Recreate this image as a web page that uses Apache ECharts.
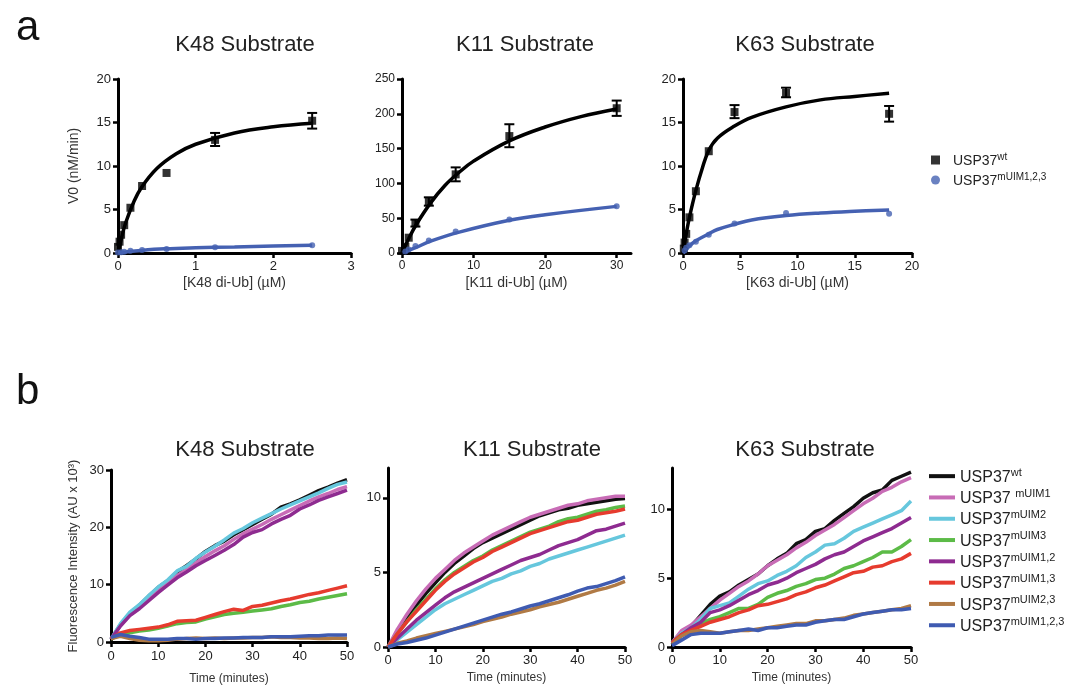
<!DOCTYPE html>
<html>
<head>
<meta charset="utf-8">
<script src="https://cdn.jsdelivr.net/npm/echarts@6/dist/echarts.min.js"></script>
<style>
  html, body { margin: 0; padding: 0; background: #fff; }
  #chart { width: 1068px; height: 692px; }
</style>
</head>
<body>
<div id="chart"></div>
<script>
// ---- panel a: initial velocity vs substrate ----
const k48Wt = [[0.0, 0.7], [0.02, 1.3], [0.04, 2.1], [0.08, 3.2], [0.16, 5.2], [0.31, 7.7], [0.625, 9.2], [1.25, 13.0], [2.5, 15.2]];
const k48Mut = [[0, 0.05], [0.04, 0.1], [0.08, 0.15], [0.16, 0.25], [0.31, 0.35], [0.625, 0.45], [1.25, 0.65], [2.5, 0.9]];
const k48WtErr = [[1.25, 12.3, 13.8], [2.5, 14.3, 16.1]];
const k48WtFit = [[0, 0], [0.05, 1.9], [0.1, 3.5], [0.2, 5.8], [0.3, 7.5], [0.5, 9.7], [0.75, 11.4], [1, 12.5], [1.5, 13.8], [2, 14.5], [2.5, 14.9]];
const k48MutFit = [[0, 0], [0.1, 0.12], [0.3, 0.3], [0.6, 0.48], [1, 0.6], [1.5, 0.7], [2, 0.8], [2.5, 0.88]];

const k11Wt = [[0, 3], [0.47, 9], [0.94, 22], [1.875, 43], [3.75, 74], [7.5, 113], [15, 168], [30, 208]];
const k11Mut = [[0.47, 2], [0.94, 5], [1.875, 10], [3.75, 18], [7.5, 31], [15, 48], [30, 67]];
const k11WtErr = [[1.875, 38, 48], [3.75, 68, 80], [7.5, 103, 123], [15, 152, 185], [30, 197, 219]];
const k11WtFit = [[0, 0], [1, 22], [2, 41], [4, 72], [6, 97], [8, 116], [10, 132], [15, 161], [20, 181], [25, 196], [30, 207]];
const k11MutFit = [[0, 0], [1, 4], [2, 8], [4, 17], [8, 30], [15, 47], [20, 55], [30, 67]];

const k63Wt = [[0.07, 0.5], [0.14, 1.2], [0.28, 2.2], [0.56, 4.1], [1.125, 7.1], [2.25, 11.7], [4.5, 16.2], [9, 18.4], [18, 16]];
const k63Mut = [[0.14, 0.3], [0.28, 0.6], [0.56, 0.9], [1.125, 1.3], [2.25, 2.1], [4.5, 3.4], [9, 4.6], [18, 4.5]];
const k63WtErr = [[4.5, 15.5, 17], [9, 17.9, 19], [18, 15.1, 16.9]];
const k63WtFit = [[0, 0], [0.28, 2.2], [0.56, 4.1], [1.125, 7.2], [1.7, 9.8], [2.25, 11.8], [3, 13.2], [4.5, 14.6], [6, 15.6], [9, 16.8], [12, 17.6], [15, 18.0], [18, 18.35]];
const k63MutFit = [[0, 0], [0.56, 0.8], [1.125, 1.4], [2.25, 2.2], [3, 2.7], [4.5, 3.3], [6, 3.8], [9, 4.3], [12, 4.6], [15, 4.8], [18, 4.95]];

// ---- panel b: fluorescence time courses (every 2 min) ----
const minutes = [0, 2, 4, 6, 8, 10, 12, 14, 16, 18, 20, 22, 24, 26, 28, 30, 32, 34, 36, 38, 40, 42, 44, 46, 48, 50];
const variants = ['wt', 'm1', 'm2', 'm3', 'm12', 'm13', 'm23', 'm123'];

const k48Curves = {
  wt:   [0.5, 3.0, 5.0, 6.4, 8.0, 9.5, 10.7, 12.2, 13.3, 14.5, 15.8, 16.8, 17.6, 18.7, 19.6, 20.5, 21.4, 22.3, 23.5, 24.1, 24.8, 25.6, 26.4, 27.0, 27.7, 28.3],
  m1:   [0.5, 2.9, 4.8, 6.1, 7.6, 9.0, 10.3, 11.6, 12.6, 13.8, 14.9, 15.9, 16.8, 17.9, 18.9, 19.7, 20.5, 21.4, 22.2, 23.0, 23.8, 24.6, 25.3, 25.9, 26.6, 27.1],
  m2:   [0.5, 3.2, 5.2, 6.5, 8.1, 9.6, 10.8, 12.4, 13.2, 14.6, 15.7, 16.7, 17.8, 19.0, 19.8, 20.8, 21.6, 22.4, 23.2, 23.9, 24.6, 25.3, 26.0, 26.8, 27.5, 27.9],
  m3:   [0.5, 1.3, 1.6, 1.9, 2.1, 2.4, 2.8, 3.2, 3.4, 3.5, 4.0, 4.4, 4.8, 5.0, 5.2, 5.4, 5.6, 5.8, 6.2, 6.5, 6.9, 7.1, 7.5, 7.8, 8.1, 8.4],
  m12:  [0.5, 2.8, 4.6, 5.8, 7.2, 8.6, 9.9, 11.2, 12.2, 13.3, 14.2, 15.1, 16.0, 17.0, 18.3, 19.1, 19.6, 20.6, 21.4, 22.1, 23.2, 23.9, 24.7, 25.3, 25.9, 26.5],
  m13:  [0.5, 1.6, 2.0, 2.2, 2.4, 2.6, 3.0, 3.6, 3.7, 3.8, 4.3, 4.8, 5.3, 5.7, 5.5, 6.2, 6.4, 6.8, 7.2, 7.5, 7.9, 8.3, 8.6, 9.0, 9.4, 9.8],
  m23:  [0.6, 1.0, 0.6, 0.3, 0.2, 0.2, 0.3, 0.5, 0.6, 0.7, 0.6, 0.7, 0.6, 0.7, 0.7, 0.8, 0.8, 0.9, 0.8, 0.8, 0.7, 0.7, 0.6, 0.6, 0.7, 0.6],
  m123: [0.8, 1.3, 1.0, 0.8, 0.5, 0.5, 0.5, 0.6, 0.6, 0.5, 0.6, 0.6, 0.7, 0.7, 0.8, 0.8, 0.8, 0.9, 0.9, 0.9, 1.0, 1.1, 1.1, 1.2, 1.2, 1.2]
};
const k11Curves = {
  wt:   [0, 1.0, 1.9, 2.8, 3.6, 4.3, 5.0, 5.6, 6.1, 6.6, 7.0, 7.3, 7.6, 7.9, 8.2, 8.5, 8.8, 9.0, 9.2, 9.3, 9.5, 9.6, 9.7, 9.8, 9.9, 9.95],
  m1:   [0, 1.2, 2.2, 3.1, 3.9, 4.6, 5.2, 5.8, 6.3, 6.7, 7.1, 7.5, 7.8, 8.1, 8.4, 8.7, 8.9, 9.1, 9.3, 9.5, 9.6, 9.8, 9.9, 10.0, 10.1, 10.1],
  m2:   [0, 0.5, 1.0, 1.5, 2.0, 2.5, 2.9, 3.2, 3.5, 3.8, 4.1, 4.4, 4.6, 4.9, 5.1, 5.4, 5.6, 5.9, 6.1, 6.3, 6.5, 6.7, 6.9, 7.1, 7.3, 7.5],
  m3:   [0, 0.9, 1.7, 2.5, 3.2, 3.9, 4.5, 5.0, 5.4, 5.8, 6.1, 6.5, 6.8, 7.1, 7.4, 7.7, 7.9, 8.1, 8.4, 8.6, 8.7, 8.9, 9.1, 9.2, 9.35, 9.45],
  m12:  [0, 0.6, 1.2, 1.8, 2.3, 2.8, 3.3, 3.7, 4.0, 4.3, 4.6, 4.9, 5.2, 5.5, 5.8, 6.0, 6.2, 6.5, 6.8, 7.0, 7.2, 7.5, 7.8, 7.9, 8.1, 8.3],
  m13:  [0, 0.9, 1.7, 2.4, 3.1, 3.8, 4.4, 4.9, 5.3, 5.7, 6.0, 6.4, 6.7, 7.0, 7.3, 7.6, 7.8, 8.0, 8.2, 8.4, 8.5, 8.7, 8.9, 9.0, 9.1, 9.25],
  m23:  [0, 0.25, 0.4, 0.6, 0.75, 0.9, 1.05, 1.2, 1.35, 1.5, 1.7, 1.85, 2.0, 2.2, 2.35, 2.5, 2.7, 2.85, 3.0, 3.2, 3.4, 3.6, 3.8, 3.95, 4.15, 4.4],
  m123: [0, 0.2, 0.3, 0.45, 0.6, 0.8, 1.0, 1.2, 1.4, 1.6, 1.8, 2.0, 2.2, 2.35, 2.55, 2.75, 2.9, 3.1, 3.3, 3.5, 3.75, 3.95, 4.05, 4.25, 4.45, 4.7]
};
const k63Curves = {
  wt:   [0.2, 1.1, 1.5, 2.3, 3.1, 3.7, 4.0, 4.5, 4.9, 5.3, 5.9, 6.4, 6.8, 7.5, 7.8, 8.4, 8.6, 9.2, 9.7, 10.2, 10.8, 11.2, 11.4, 12.1, 12.4, 12.7],
  m1:   [0.3, 1.2, 1.6, 2.2, 2.8, 3.4, 3.9, 4.4, 4.8, 5.3, 5.9, 6.3, 6.7, 7.2, 7.6, 8.1, 8.5, 8.9, 9.4, 9.9, 10.4, 10.8, 11.3, 11.6, 12.0, 12.3],
  m2:   [0.3, 1.0, 1.4, 2.0, 2.8, 3.0, 3.2, 3.7, 4.2, 4.6, 4.8, 5.2, 5.5, 5.9, 6.5, 6.9, 7.4, 7.5, 7.9, 8.4, 8.7, 9.0, 9.3, 9.6, 9.9, 10.6],
  m3:   [0.3, 0.9, 1.3, 1.7, 2.0, 2.2, 2.5, 2.8, 2.8, 3.1, 3.6, 3.9, 4.1, 4.4, 4.6, 4.9, 5.0, 5.3, 5.7, 5.9, 6.2, 6.5, 6.9, 6.9, 7.3, 7.8],
  m12:  [0.3, 0.9, 1.4, 1.8, 2.5, 2.7, 3.0, 3.4, 3.8, 4.1, 4.5, 4.7, 5.0, 5.4, 5.7, 6.0, 6.4, 6.7, 6.9, 7.3, 7.7, 8.0, 8.3, 8.6, 9.0, 9.4],
  m13:  [0.3, 0.9, 1.2, 1.5, 1.8, 2.0, 2.2, 2.5, 2.7, 3.0, 3.1, 3.3, 3.5, 3.8, 4.0, 4.3, 4.5, 4.8, 5.1, 5.4, 5.5, 5.8, 5.9, 6.2, 6.4, 6.8],
  m23:  [0.2, 0.8, 1.1, 1.2, 1.1, 1.0, 1.1, 1.2, 1.2, 1.3, 1.4, 1.5, 1.6, 1.7, 1.7, 1.9, 1.9, 2.0, 2.1, 2.3, 2.4, 2.5, 2.6, 2.7, 2.8, 3.0],
  m123: [0.1, 0.5, 0.9, 1.0, 1.0, 1.0, 1.1, 1.2, 1.3, 1.2, 1.4, 1.4, 1.5, 1.6, 1.6, 1.8, 1.9, 2.0, 2.0, 2.2, 2.4, 2.5, 2.6, 2.7, 2.7, 2.8]
};

const colors = { wt: '#111111', m1: '#c86cb6', m2: '#66c7dd', m3: '#5cbb47', m12: '#8e2b90', m13: '#e63b2e', m23: '#b07a45', m123: '#3f5bb1' };
const legendLabels = {
  wt: '{b|USP37}{s|wt}', m1: '{b|USP37 }{s|mUIM1}', m2: '{b|USP37}{s|mUIM2}', m3: '{b|USP37}{s|mUIM3}',
  m12: '{b|USP37}{s|mUIM1,2}', m13: '{b|USP37}{s|mUIM1,3}', m23: '{b|USP37}{s|mUIM2,3}', m123: '{b|USP37}{s|mUIM1,2,3}',
  a_wt: '{b|USP37}{s|wt}', a_mut: '{b|USP37}{s|mUIM1,2,3}'
};
const mutBlue = '#4561b2';
const FONT = 'Liberation Sans, Arial, sans-serif';

const grids = [
  { left: 118, top: 79, width: 233, height: 174 },
  { left: 402, top: 79, width: 229, height: 174 },
  { left: 683, top: 79, width: 229, height: 174 },
  { left: 111, top: 470, width: 236, height: 172 },
  { left: 388, top: 468, width: 237, height: 179 },
  { left: 672, top: 468, width: 239, height: 179 }
];

function axis(grid, max, interval, opts) {
  const o = Object.assign({ name: '', gap: 0, font: 13, nameFont: 14, margin: 7, labels: null }, opts);
  const ax = {
    type: 'value', gridIndex: grid, min: 0, max, interval,
    name: o.name, nameLocation: 'middle', nameGap: o.gap,
    nameTextStyle: { color: '#333', fontSize: o.nameFont, fontFamily: FONT },
    axisLine: { lineStyle: { color: '#000', width: 3 } },
    axisTick: { length: 5, lineStyle: { color: '#000', width: 2.5 } },
    axisLabel: { color: '#222', fontSize: o.font, fontFamily: FONT, margin: o.margin },
    splitLine: { show: false }
  };
  if (o.labels) {
    ax.axisLabel.customValues = o.labels;
    ax.axisTick.customValues = o.labels;
  }
  return ax;
}

const xAxes = [
  axis(0, 3, 1, { name: '[K48 di-Ub] (\u00b5M)', gap: 23 }),
  axis(1, 32, 10, { name: '[K11 di-Ub] (\u00b5M)', gap: 23, font: 12, labels: [0, 10, 20, 30] }),
  axis(2, 20, 5, { name: '[K63 di-Ub] (\u00b5M)', gap: 23 }),
  axis(3, 50, 10, { name: 'Time (minutes)', gap: 31, nameFont: 12, margin: 8 }),
  axis(4, 50, 10, { name: 'Time (minutes)', gap: 25, nameFont: 12, margin: 7 }),
  axis(5, 50, 10, { name: 'Time (minutes)', gap: 25, nameFont: 12, margin: 7 })
];

const yAxes = [
  axis(0, 20, 5, { name: 'V0 (nM/min)', gap: 37 }),
  axis(1, 250, 50, { font: 12 }),
  axis(2, 20, 5, {}),
  axis(3, 30, 10, { name: 'Fluorescence Intensity (AU x 10\u00b3)', gap: 31, nameFont: 13 }),
  axis(4, 12, 5, { labels: [0, 5, 10] }),
  axis(5, 13, 5, { labels: [0, 5, 10] })
];

function errorBars(idx, data) {
  return {
    type: 'custom', xAxisIndex: idx, yAxisIndex: idx, data, z: 4, silent: true,
    renderItem(params, api) {
      const x = api.value(0);
      const top = api.coord([x, api.value(2)]);
      const bot = api.coord([x, api.value(1)]);
      const w = 5;
      const st = { stroke: '#000', lineWidth: 2 };
      return {
        type: 'group', children: [
          { type: 'line', shape: { x1: top[0], y1: top[1], x2: bot[0], y2: bot[1] }, style: st },
          { type: 'line', shape: { x1: top[0] - w, y1: top[1], x2: top[0] + w, y2: top[1] }, style: st },
          { type: 'line', shape: { x1: bot[0] - w, y1: bot[1], x2: bot[0] + w, y2: bot[1] }, style: st }
        ]
      };
    }
  };
}

function kinetics(idx, wt, mut, err, wtFit, mutFit) {
  return [
    { name: 'a_wt_fit', type: 'line', xAxisIndex: idx, yAxisIndex: idx, data: wtFit, smooth: 0.4,
      showSymbol: false, lineStyle: { color: '#000', width: 3.5 }, z: 3, silent: true },
    { name: 'a_mut_fit', type: 'line', xAxisIndex: idx, yAxisIndex: idx, data: mutFit, smooth: 0.4,
      showSymbol: false, lineStyle: { color: mutBlue, width: 3.5 }, z: 3, silent: true },
    errorBars(idx, err),
    { name: 'a_wt', type: 'scatter', xAxisIndex: idx, yAxisIndex: idx, data: wt, symbol: 'rect',
      symbolSize: 8, itemStyle: { color: '#000' }, z: 5 },
    { name: 'a_mut', type: 'scatter', xAxisIndex: idx, yAxisIndex: idx, data: mut, symbol: 'circle',
      symbolSize: 6, itemStyle: { color: mutBlue }, z: 5 }
  ];
}

function timeCourses(idx, curves) {
  return variants.map(v => ({
    name: v, type: 'line', xAxisIndex: idx, yAxisIndex: idx,
    data: minutes.map((t, i) => [t, curves[v][i]]),
    showSymbol: false, lineStyle: { color: colors[v], width: 3.5 }, itemStyle: { color: colors[v] }
  }));
}

const series = [].concat(
  kinetics(0, k48Wt, k48Mut, k48WtErr, k48WtFit, k48MutFit),
  kinetics(1, k11Wt, k11Mut, k11WtErr, k11WtFit, k11MutFit),
  kinetics(2, k63Wt, k63Mut, k63WtErr, k63WtFit, k63MutFit),
  timeCourses(3, k48Curves),
  timeCourses(4, k11Curves),
  timeCourses(5, k63Curves)
);

const titleStyle = { color: '#222', fontSize: 22, fontWeight: 'normal', fontFamily: FONT };
const letterStyle = { color: '#111', fontSize: 42, fontWeight: 'normal', fontFamily: FONT };
const titles = [
  { text: 'a', left: 11, top: 2, textStyle: letterStyle },
  { text: 'b', left: 11, top: 366, textStyle: letterStyle },
  { text: 'K48 Substrate', left: 240, top: 29, textAlign: 'center', textStyle: titleStyle },
  { text: 'K11 Substrate', left: 520, top: 29, textAlign: 'center', textStyle: titleStyle },
  { text: 'K63 Substrate', left: 800, top: 29, textAlign: 'center', textStyle: titleStyle },
  { text: 'K48 Substrate', left: 240, top: 434, textAlign: 'center', textStyle: titleStyle },
  { text: 'K11 Substrate', left: 527, top: 434, textAlign: 'center', textStyle: titleStyle },
  { text: 'K63 Substrate', left: 800, top: 434, textAlign: 'center', textStyle: titleStyle }
];

const legendRich = (size, supSize, lh) => ({
  b: { fontSize: size, color: '#222', fontFamily: FONT, lineHeight: lh, verticalAlign: 'bottom' },
  s: { fontSize: supSize, color: '#222', fontFamily: FONT, lineHeight: lh, verticalAlign: 'top' }
});

const option = {
  backgroundColor: '#fff',
  animation: false,
  title: titles,
  grid: grids,
  xAxis: xAxes,
  yAxis: yAxes,
  legend: [
    {
      left: 926, top: 147, orient: 'vertical', itemGap: 4, itemWidth: 9, itemHeight: 9,
      data: [{ name: 'a_wt', icon: 'rect' }, { name: 'a_mut', icon: 'circle' }],
      formatter: n => legendLabels[n],
      textStyle: { padding: [0, 0, 0, 8], rich: legendRich(14, 10, 16) }, selectedMode: false
    },
    {
      left: 924, top: 462, orient: 'vertical', itemGap: 3, itemWidth: 26, itemHeight: 4,
      data: variants.map(v => ({ name: v, icon: 'rect' })),
      formatter: n => legendLabels[n],
      textStyle: { rich: legendRich(16, 11, 18.3) }, selectedMode: false
    }
  ],
  series
};

const chart = echarts.init(document.getElementById('chart'));
chart.setOption(option);
</script>
</body>
</html>
